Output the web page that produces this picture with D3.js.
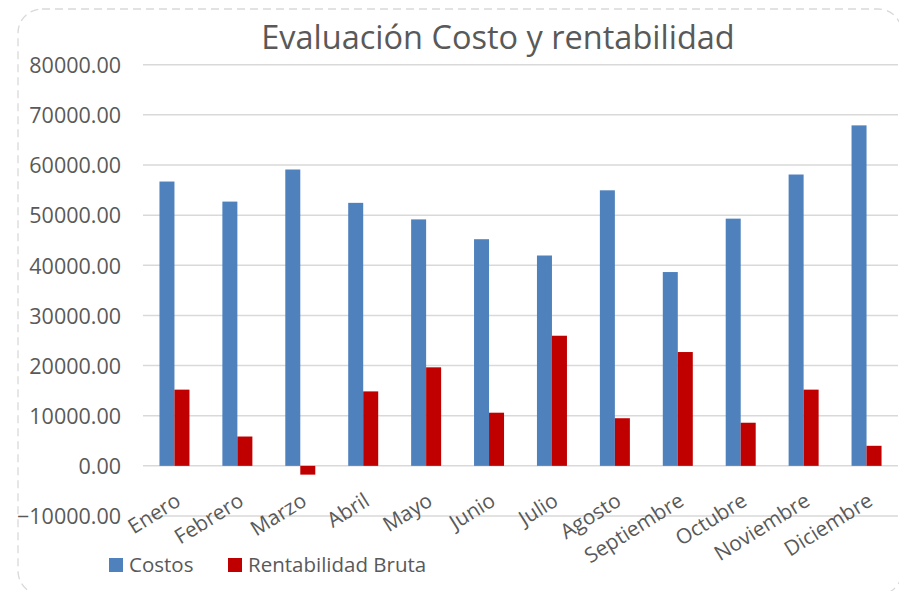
<!DOCTYPE html>
<html>
<head>
<meta charset="utf-8">
<script src="https://cdn.jsdelivr.net/npm/d3@7"></script>
<style>
  body { margin: 0; background: #fff; }
  text { font-family: "Open Sans", sans-serif; fill: #595959; }
</style>
</head>
<body>
<svg id="chart" width="899" height="591"></svg>
<script>
// datos
var meses = ["Enero", "Febrero", "Marzo", "Abril", "Mayo", "Junio", "Julio",
  "Agosto", "Septiembre", "Octubre", "Noviembre", "Diciembre"];
var costos = [56700, 52700, 59100, 52450, 49150, 45200, 41950, 54950, 38650, 49300, 58100, 67900];
var rentabilidad = [15200, 5850, -1750, 14850, 19650, 10600, 25950, 9500, 22700, 8600, 15200, 4000];
var ticksY = [-10000, 0, 10000, 20000, 30000, 40000, 50000, 60000, 70000, 80000];
var series = ["Costos", "Rentabilidad Bruta"];
var colores = ["#4f81bd", "#c00000"];

var svg = d3.select("#chart");

// borde punteado
svg.append("rect")
  .attr("x", 18).attr("y", 9)
  .attr("width", 884).attr("height", 586)
  .attr("rx", 24)
  .attr("fill", "none")
  .attr("stroke", "#d9d9d9")
  .attr("stroke-width", 1.3)
  .attr("stroke-dasharray", "8,5");

var x = d3.scaleBand()
  .domain(meses)
  .range([143, 898]);

var y = d3.scaleLinear()
  .domain([-10000, 80000])
  .range([516, 64.7]);

// lineas de la grilla
svg.append("g")
  .selectAll("line")
  .data(ticksY)
  .enter()
  .append("line")
  .attr("x1", 143).attr("x2", 898)
  .attr("y1", function(d) { return y(d); })
  .attr("y2", function(d) { return y(d); })
  .attr("stroke", "#d9d9d9")
  .attr("stroke-width", 1.5);

// eje y
var yAxis = d3.axisLeft(y)
  .tickValues(ticksY)
  .tickFormat(d3.format(".2f"))
  .tickSize(0)
  .tickPadding(0);

var gy = svg.append("g")
  .attr("transform", "translate(121,0)")
  .call(yAxis);
gy.select(".domain").remove();
gy.selectAll("text")
  .style("font-size", "21.5px")
  .attr("fill", "#595959")
  .attr("dy", "0.36em");

// barras
var bw = 15;
var grupos = svg.append("g")
  .selectAll("g")
  .data(meses)
  .enter()
  .append("g");

grupos.append("rect")
  .attr("x", function(d) { return x(d) + x.bandwidth() / 2 - bw; })
  .attr("width", bw)
  .attr("y", function(d, i) { return y(Math.max(0, costos[i])); })
  .attr("height", function(d, i) { return Math.abs(y(costos[i]) - y(0)); })
  .attr("fill", colores[0]);

grupos.append("rect")
  .attr("x", function(d) { return x(d) + x.bandwidth() / 2; })
  .attr("width", bw)
  .attr("y", function(d, i) { return y(Math.max(0, rentabilidad[i])); })
  .attr("height", function(d, i) { return Math.abs(y(rentabilidad[i]) - y(0)); })
  .attr("fill", colores[1]);

// etiquetas del eje x
svg.append("g")
  .selectAll("text")
  .data(meses)
  .enter()
  .append("text")
  .attr("transform", function(d) {
    return "translate(" + (x(d) + x.bandwidth() / 2) + ",492) rotate(-32)";
  })
  .attr("text-anchor", "end")
  .attr("dy", "0.7em")
  .style("font-size", "20.8px")
  .text(function(d) { return d; });

// titulo
svg.append("text")
  .attr("x", 498)
  .attr("y", 49)
  .attr("text-anchor", "middle")
  .style("font-size", "32.5px")
  .text("Evaluación Costo y rentabilidad");

// leyenda
var legX = [109, 228];
var leyenda = svg.append("g")
  .selectAll("g")
  .data(series)
  .enter()
  .append("g")
  .attr("transform", function(d, i) { return "translate(" + legX[i] + ",558)"; });

leyenda.append("rect")
  .attr("width", 14).attr("height", 14)
  .attr("fill", function(d, i) { return colores[i]; });

leyenda.append("text")
  .attr("x", 20)
  .attr("y", 13.5)
  .style("font-size", "20.5px")
  .text(function(d) { return d; });
</script>
</body>
</html>
